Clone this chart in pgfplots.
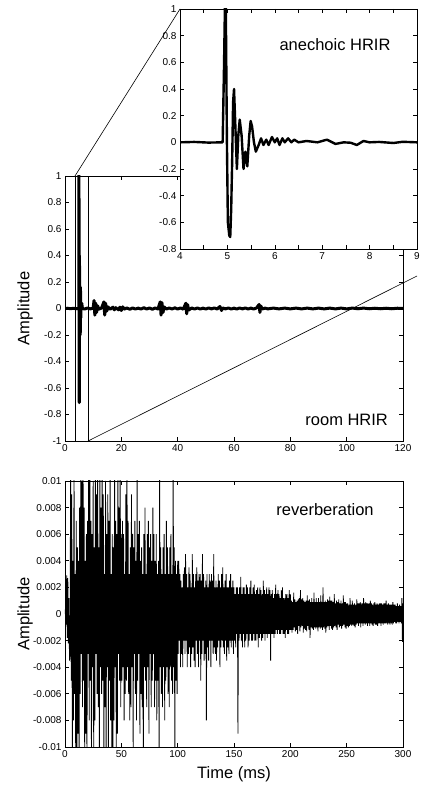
\documentclass[border=0pt]{standalone}
\usepackage{fontspec}
\setmainfont{Liberation Sans}
\usepackage{pgfplots}
\pgfplotsset{compat=1.18}

\pgfplotsset{
  mlab/.style={
    scale only axis,
    axis line style={line width=0.8pt},
    tick align=inside,
    major tick length=4pt, minor tick length=4pt,
    every tick/.style={black, line width=0.6pt},
    tick label style={font=\fontsize{10}{12}\selectfont},
    /pgf/number format/assume math mode=true,
    label style={font=\fontsize{16.5}{19}\selectfont},
    scaled ticks=false,
  }
}

\begin{document}
\begin{tikzpicture}[x=1pt,y=1pt]
\path[use as bounding box] (0,0) rectangle (423,785);

% room HRIR
\begin{axis}[mlab, name=room, at={(65pt,344pt)}, anchor=south west,
  width=338pt, height=265pt,
  xmin=0, xmax=120, ymin=-1, ymax=1,
  xtick={0,20,40,60,80,100,120},
  ytick={-1,-0.8,-0.6,-0.4,-0.2,0,0.2,0.4,0.6,0.8,1},
  yticklabels={-1,-0.8,-0.6,-0.4,-0.2,0,0.2,0.4,0.6,0.8,1},
  ylabel={Amplitude},
  ylabel style={at={(axis description cs:-0.118,0.5)}, anchor=center},
]
\addplot[black, line width=3pt, line join=round] coordinates {
(0,0) (1,0.002) (2,-0.002) (3,0.002) (4,-0.002) (4.9,0) (4.93,0.6) (4.96,1.3)
(5.0,-0.55) (5.06,-0.71) (5.1,-0.15) (5.14,0.4) (5.2,-0.2) (5.26,0.17) (5.34,-0.2)
(5.42,-0.18) (5.49,0.16) (5.6,-0.07) (5.71,0.03) (5.82,0.02) (5.94,0.04) (6.2,0)
(7,-0.004) (8,0.004) (9,-0.003) (10,0.003) (10.3,0.06) (10.6,-0.05) (10.9,0.04)
(11.2,-0.03) (11.6,0.02) (12,-0.005) (13,0.004) (13.8,0.05) (14.1,-0.05) (14.4,0.04)
(14.8,-0.02) (15.3,0.012) (16,-0.006) (17,0.01) (17.5,-0.01) (18,0.006) (19,-0.01)
(19.5,0.01) (20,-0.015) (20.5,0.012) (21,-0.005) (22,0.004) (23,-0.006) (24,0.004)
(25,-0.004) (26,0.003) (27,-0.004) (28,0.006) (29,-0.004) (30,0.004) (31,-0.006)
(32,0.004) (33,-0.004) (33.8,0.05) (34.1,-0.05) (34.4,0.045) (34.8,-0.03) (35.2,0.012)
(36,-0.004) (37,0.004) (38,-0.004) (39,0.005) (40,-0.004) (41,0.004) (42,-0.005)
(42.9,0.04) (43.2,-0.04) (43.5,0.03) (43.9,-0.012) (45,0.004) (46,-0.004) (47,0.004)
(48,-0.004) (49,0.003) (50,-0.004) (51,0.004) (52,-0.003) (53,0.004) (54,-0.004)
(55,0.015) (55.6,-0.015) (56,0.004) (57,-0.003) (58,0.004) (59,-0.004) (60,0.003)
(61,-0.004) (62,0.004) (63,-0.003) (64,0.004) (65,-0.004) (66,0.003) (67,-0.004)
(68,0.004) (68.9,0.03) (69.2,-0.03) (69.5,0.02) (70,-0.004) (71,0.003) (72,-0.003)
(74,0.003) (76,-0.003) (78,0.003) (80,-0.003) (82,0.003) (84,-0.003) (86,0.003)
(88,-0.003) (90,0.003) (92,-0.003) (94,0.003) (96,-0.003) (98,0.003) (100,-0.003)
(102,0.003) (104,-0.002) (106,0.003) (108,-0.002) (110,0.002) (112,-0.002)
(114,0.002) (116,-0.002) (118,0.002) (120,0)
};
\draw[line width=0.6pt] (axis cs:3.55,-1) -- (axis cs:3.55,1);
\draw[line width=0.6pt] (axis cs:8.2,-1) -- (axis cs:8.2,1);
\coordinate (zA) at (axis cs:3.55,1);
\coordinate (zB) at (axis cs:8.2,-1);
\node[font=\fontsize{16.5}{19}\selectfont] at (axis cs:100,-0.842) {room HRIR};
\end{axis}

\draw[line width=0.6pt] (zB) -- (417pt,509pt);

% anechoic HRIR (inset)
\begin{axis}[mlab, name=inset, at={(180pt,536pt)}, anchor=south west,
  width=237pt, height=240pt,
  axis background/.style={fill=white},
  xmin=4, xmax=9, ymin=-0.8, ymax=1,
  xtick={4,5,6,7,8,9}, minor xtick={4.5,5.5,6.5,7.5,8.5},
  ytick={-0.8,-0.6,-0.4,-0.2,0,0.2,0.4,0.6,0.8,1},
  yticklabels={-0.8,-0.6,-0.4,-0.2,0,0.2,0.4,0.6,0.8,1},
]
\addplot[black, line width=2.4pt, line join=round] coordinates {
(4,0) (4.3,0.003) (4.6,-0.002) (4.9,0) (4.93,0.6) (4.96,1.3) (4.99,0) (5.01,-0.6) (5.04,-0.7)
(5.06,-0.71) (5.08,-0.5) (5.1,-0.15) (5.12,0.3) (5.14,0.4) (5.16,0.2) (5.2,-0.2) (5.23,0.05) (5.26,0.17) (5.3,0.05) (5.34,-0.2)
(5.38,-0.07) (5.42,-0.18) (5.46,0.05) (5.49,0.16) (5.52,0.12) (5.56,0) (5.6,-0.07) (5.66,-0.02)
(5.71,0.03) (5.76,-0.02) (5.82,0.02) (5.87,-0.02) (5.94,0.04) (6.0,0.0)
(6.05,0.03) (6.1,-0.02) (6.16,0.03) (6.21,0) (6.28,0.03) (6.35,0) (6.41,0.02)
(6.5,0) (6.67,0.01) (6.9,0) (7.1,0.02) (7.28,-0.012) (7.45,0) (7.6,-0.003)
(7.73,-0.02) (7.87,0.01) (8.0,0) (8.2,0.003) (8.5,-0.005) (8.7,0.004) (9,0)
};
\node[font=\fontsize{16.5}{19}\selectfont] at (axis cs:7.27,0.73) {anechoic HRIR};
\end{axis}

\draw[line width=0.6pt] (zA) -- (inset.north west);

% reverberation
\begin{axis}[mlab, at={(65pt,38pt)}, anchor=south west,
  width=338pt, height=266pt,
  xmin=0, xmax=300, ymin=-0.01, ymax=0.01,
  xtick={0,50,100,150,200,250,300},
  ytick={-0.01,-0.008,-0.006,-0.004,-0.002,0,0.002,0.004,0.006,0.008,0.01},
  yticklabels={-0.01,-0.008,-0.006,-0.004,-0.002,0,0.002,0.004,0.006,0.008,0.01},
  ylabel={Amplitude},
  ylabel style={at={(axis description cs:-0.118,0.5)}, anchor=center},
  xlabel={Time (ms)},
  xlabel style={at={(axis description cs:0.5,0)}, anchor=north, yshift=-16pt},
]
\addplot[black, line width=0.8pt] coordinates {
(0,0) (0.5,0.0005) (1,-0.0008) (1.5,0.0029) (2,-0.0018) (2.5,0.0027) (3,-0.0022) (3.5,0.0012) (4,-0.0035) (4.5,-0.003)
(5,0.012) (5.5,-0.005) (6,0.009) (6.5,-0.012) (7,0.004) (7.5,-0.008) (8,0.012) (8.5,-0.006) (9,0.003) (9.5,-0.011)
(10,0.007) (10.5,-0.012) (11,0.005) (11.5,-0.009) (12,0.004) (12.5,-0.012) (13,0.008) (13.5,-0.006) (14,0.012) (14.5,-0.003)
(15,0.010) (15.5,-0.007) (16,0.012) (16.5,-0.005) (17,0.008) (17.5,-0.012) (18,0.004) (18.5,-0.009) (19,0.006) (19.5,-0.012)
(20,0.007) (20.5,-0.003) (21,0.011) (21.5,-0.008) (22,0.012) (22.5,-0.005) (23,0.007) (23.5,-0.012) (24,0.006) (24.5,-0.004)
(25,0.010) (25.5,-0.012) (26,0.005) (26.5,-0.008) (27,0.012) (27.5,-0.003) (28,0.009) (28.5,-0.006) (29,0.012) (29.5,-0.007)
(30,0.005) (30.5,-0.011) (31,0.012) (31.5,-0.004) (32,0.008) (32.5,-0.006) (33,0.012) (33.5,-0.005) (34,0.009) (34.5,-0.012)
(35,0.003) (35.5,-0.007) (36,0.010) (36.5,-0.012) (37,0.006) (37.5,-0.004) (38,0.009) (38.5,-0.012) (39,0.007) (39.5,-0.005)
(40,0.012) (40.5,-0.008) (41,0.003) (41.5,-0.010) (42,0.006) (42.5,-0.012) (43,0.005) (43.5,-0.008) (44,0.012) (44.5,-0.004)
(45,0.007) (45.5,-0.011) (46,0.006) (46.5,-0.009) (47,0.012) (47.5,-0.003) (48,0.008) (48.5,-0.005) (49,0.012) (49.5,-0.007)
(50,0.006)
(50.5,-0.005) (51,0.007) (51.5,-0.004) (52,0.006) (52.5,-0.008) (53,0.003) (53.5,-0.006) (54,0.009) (54.5,-0.005) (55,0.012)
(55.5,-0.004) (56,0.007) (56.5,-0.006) (57,0.003) (57.5,-0.008) (58,0.005) (58.5,-0.007) (59,0.009) (59.5,-0.004) (60,0.006)
(60.5,-0.010) (61,0.005) (61.5,-0.003) (62,0.007) (62.5,-0.006) (63,0.004) (63.5,-0.008) (64,0.012) (64.5,-0.005) (65,0.006)
(65.5,-0.003) (66,0.007) (66.5,-0.009) (67,0.004) (67.5,-0.006) (68,0.005) (68.5,-0.007) (69,0.003) (69.5,-0.012) (70,0.006)
(70.5,-0.004) (71,0.008) (71.5,-0.005) (72,0.003) (72.5,-0.007) (73,0.006) (73.5,-0.004) (74,0.007) (74.5,-0.009) (75,0.005)
(75.5,-0.003) (76,0.006) (76.5,-0.007) (77,0.004) (77.5,-0.005) (78,0.008) (78.5,-0.003) (79,0.006) (79.5,-0.007) (80,0.004)
(80.5,-0.005) (81,0.006) (81.5,-0.008) (82,0.003) (82.5,-0.005) (83,0.004) (83.5,-0.012) (84,0.011) (84.5,-0.004) (85,0.005)
(85.5,-0.006) (86,0.003) (86.5,-0.007) (87,0.005) (87.5,-0.004) (88,0.006) (88.5,-0.008) (89,0.003) (89.5,-0.005) (90,0.007)
(90.5,-0.004) (91,0.005) (91.5,-0.006) (92,0.003) (92.5,-0.007) (93,0.005) (93.5,-0.004) (94,0.006) (94.5,-0.005) (95,0.003)
(95.5,-0.006) (96,0.012) (96.5,-0.004) (97,0.005) (97.5,-0.012) (98,0.004) (98.5,-0.005) (99,0.003) (99.5,-0.006) (100,0.004)
(100.5,-0.003) (101,0.004) (101.5,-0.002) (102,0.003) (102.5,-0.004) (103,0.0025) (103.5,-0.003) (104,0.002) (104.5,-0.004) (105,0.003)
(105.5,-0.002) (106,0.0035) (106.5,-0.003) (107,0.0045) (107.5,-0.002) (108,0.003) (108.5,-0.004) (109,0.002) (109.5,-0.003) (110,0.0035)
(110.5,-0.0025) (111,0.003) (111.5,-0.004) (112,0.002) (112.5,-0.003) (113,0.0045) (113.5,-0.0025) (114,0.003) (114.5,-0.0035) (115,0.002)
(115.5,-0.004) (116,0.003) (116.5,-0.002) (117,0.0035) (117.5,-0.003) (118,0.0025) (118.5,-0.004) (119,0.003) (119.5,-0.002) (120,0.003)
(120.5,-0.005) (121,0.0025) (121.5,-0.003) (122,0.0045) (122.5,-0.002) (123,0.003) (123.5,-0.0035) (124,0.002) (124.5,-0.003) (125,0.0025)
(125.5,-0.008) (126,0.003) (126.5,-0.0025) (127,0.002) (127.5,-0.0035) (128,0.003) (128.5,-0.002) (129,0.0025) (129.5,-0.004) (130,0.003)
(130.5,-0.002) (131,0.0025) (131.5,-0.003) (132,0.0045) (132.5,-0.0025) (133,0.002) (133.5,-0.003) (134,0.0025) (134.5,-0.0035) (135,0.002)
(135.5,-0.0025) (136,0.003) (136.5,-0.002) (137,0.0025) (137.5,-0.004) (138,0.002) (138.5,-0.0025) (139,0.003) (139.5,-0.002) (140,0.0035)
(140.5,-0.0025) (141,0.002) (141.5,-0.003) (142,0.0025) (142.5,-0.002) (143,0.003) (143.5,-0.0035) (144,0.002) (144.5,-0.0025) (145,0.002)
(145.5,-0.003) (146,0.0025) (146.5,-0.002) (147,0.003) (147.5,-0.0025) (148,0.002) (148.5,-0.002) (149,0.0025) (149.5,-0.003) (150,0.002)
(150.5,-0.002) (151,0.0015) (151.5,-0.0025) (152,0.002) (152.5,-0.0015) (153,0.002) (153.5,-0.009) (154,0.0015) (154.5,-0.002) (155,0.002)
(155.5,-0.0015) (156,0.0028) (156.5,-0.002) (157,0.0015) (157.5,-0.0025) (158,0.002) (158.5,-0.0015) (159,0.002) (159.5,-0.0025) (160,0.0015)
(160.5,-0.002) (161,0.0022) (161.5,-0.0015) (162,0.002) (162.5,-0.0025) (163,0.0015) (163.5,-0.002) (164,0.002) (164.5,-0.0015) (165,0.0025)
(165.5,-0.002) (166,0.0015) (166.5,-0.002) (167,0.002) (167.5,-0.0015) (168,0.0022) (168.5,-0.002) (169,0.0015) (169.5,-0.002) (170,0.0018)
(170.5,-0.0015) (171,0.002) (171.5,-0.0025) (172,0.0015) (172.5,-0.0018) (173,0.002) (173.5,-0.0015) (174,0.0018) (174.5,-0.002) (175,0.0015)
(175.5,-0.0018) (176,0.0025) (176.5,-0.0015) (177,0.0018) (177.5,-0.002) (178,0.0015) (178.5,-0.0015) (179,0.002) (179.5,-0.0018) (180,0.0015)
(180.5,-0.0015) (181,0.002) (181.5,-0.0015) (182,0.0018) (182.5,-0.0035) (183,0.0015) (183.5,-0.0015) (184,0.0018) (184.5,-0.0015) (185,0.0012)
(185.5,-0.0018) (186,0.0015) (186.5,-0.0015) (187,0.0022) (187.5,-0.0012) (188,0.0015) (188.5,-0.0015) (189,0.0018) (189.5,-0.0012) (190,0.0015)
(190.5,-0.0015) (191,0.0012) (191.5,-0.0015) (192,0.0018) (192.5,-0.0012) (193,0.002) (193.5,-0.0015) (194,0.0012) (194.5,-0.0015) (195,0.0012)
(195.5,-0.0018) (196,0.0015) (196.5,-0.0012) (197,0.0015) (197.5,-0.0015) (198,0.0012) (198.5,-0.0015) (199,0.0018) (199.5,-0.0012) (200,0.0015)
(200.5,-0.0012) (201,0.001) (201.5,-0.0014) (202,0.0009) (202.5,-0.0012) (203,0.0016) (203.5,-0.001) (204,0.0011) (204.5,-0.0013) (205,0.0009)
(205.5,-0.0012) (206,0.001) (206.5,-0.0015) (207,0.0011) (207.5,-0.0009) (208,0.0012) (208.5,-0.0013) (209,0.0018) (209.5,-0.001) (210,0.0011)
(210.5,-0.0009) (211,0.0012) (211.5,-0.0014) (212,0.001) (212.5,-0.0011) (213,0.0009) (213.5,-0.0012) (214,0.001) (214.5,-0.0013) (215,0.0014)
(215.5,-0.0009) (216,0.001) (216.5,-0.0012) (217,0.0011) (217.5,-0.0018) (218,0.0009) (218.5,-0.001) (219,0.0012) (219.5,-0.0011) (220,0.0009)
(220.5,-0.0012) (221,0.0016) (221.5,-0.001) (222,0.0009) (222.5,-0.0011) (223,0.0012) (223.5,-0.001) (224,0.0009) (224.5,-0.0013) (225,0.0012)
(225.5,-0.001) (226,0.0009) (226.5,-0.0011) (227,0.0014) (227.5,-0.001) (228,0.0009) (228.5,-0.0012) (229,0.002) (229.5,-0.001) (230,0.0009)
(230.5,-0.0011) (231,0.001) (231.5,-0.0014) (232,0.0009) (232.5,-0.001) (233,0.0011) (233.5,-0.0009) (234,0.001) (234.5,-0.0012) (235,0.0013)
(235.5,-0.0009) (236,0.001) (236.5,-0.0011) (237,0.001) (237.5,-0.0012) (238,0.0009) (238.5,-0.001) (239,0.0015) (239.5,-0.0009) (240,0.0008)
(240.5,-0.001) (241,0.001) (241.5,-0.0012) (242,0.0009) (242.5,-0.0008) (243,0.0011) (243.5,-0.001) (244,0.0008) (244.5,-0.0009) (245,0.001)
(245.5,-0.0011) (246,0.0008) (246.5,-0.0009) (247,0.0014) (247.5,-0.0008) (248,0.0009) (248.5,-0.001) (249,0.0009) (249.5,-0.0011) (250,0.0008)
(250.5,-0.0009) (251,0.0008) (251.5,-0.001) (252,0.0007) (252.5,-0.0009) (253,0.0012) (253.5,-0.0008) (254,0.0007) (254.5,-0.0009) (255,0.001)
(255.5,-0.0008) (256,0.0007) (256.5,-0.0009) (257,0.0008) (257.5,-0.001) (258,0.0007) (258.5,-0.0008) (259,0.0011) (259.5,-0.0007) (260,0.0008)
(260.5,-0.0009) (261,0.0008) (261.5,-0.0007) (262,0.0009) (262.5,-0.001) (263,0.0008) (263.5,-0.0007) (264,0.0008) (264.5,-0.0009) (265,0.0012)
(265.5,-0.0007) (266,0.0008) (266.5,-0.0008) (267,0.0009) (267.5,-0.0007) (268,0.0008) (268.5,-0.0009) (269,0.0008) (269.5,-0.0007) (270,0.0008)
(270.5,-0.0009) (271,0.001) (271.5,-0.0007) (272,0.0008) (272.5,-0.0008) (273,0.0007) (273.5,-0.0009) (274,0.0008) (274.5,-0.0007) (275,0.0009)
(275.5,-0.0008) (276,0.0007) (276.5,-0.0008) (277,0.0008) (277.5,-0.0009) (278,0.0007) (278.5,-0.0007) (279,0.0008) (279.5,-0.0007) (280,0.0008)
(280.5,-0.0009) (281,0.0008) (281.5,-0.0007) (282,0.0007) (282.5,-0.0008) (283,0.0008) (283.5,-0.0007) (284,0.0008) (284.5,-0.0007) (285,0.001)
(285.5,-0.0007) (286,0.0007) (286.5,-0.0008) (287,0.0008) (287.5,-0.0007) (288,0.0007) (288.5,-0.0008) (289,0.0007) (289.5,-0.0007) (290,0.0007)
(290.5,-0.0008) (291,0.0009) (291.5,-0.0007) (292,0.0007) (292.5,-0.0006) (293,0.0007) (293.5,-0.0007) (294,0.0006) (294.5,-0.0007) (295,0.0008)
(295.5,-0.0006) (296,0.0006) (296.5,-0.0007) (297,0.0007) (297.5,-0.0006) (298,0.0006) (298.5,-0.0007) (299,0.0012) (299.5,-0.0021) (300,0.0008)
};
\node[font=\fontsize{16.5}{19}\selectfont] at (axis cs:230.8,0.00782) {reverberation};
\end{axis}
\end{tikzpicture}
\end{document}
